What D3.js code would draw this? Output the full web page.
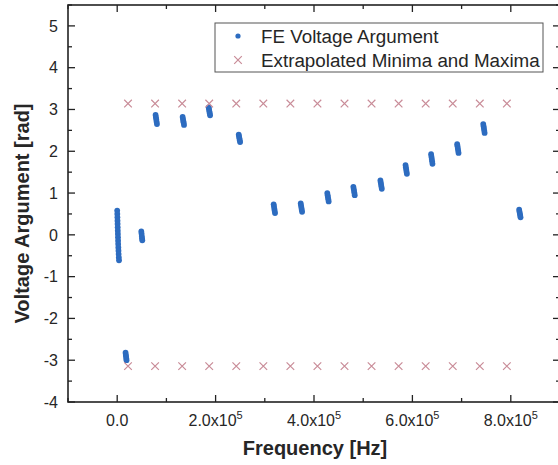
<!DOCTYPE html>
<html>
<head>
<meta charset="utf-8">
<script src="https://cdn.jsdelivr.net/npm/d3@7"></script>
<style>
  html, body { margin: 0; padding: 0; background: #fff; }
  svg { display: block; font-family: Arial, "Liberation Sans", sans-serif; }
</style>
</head>
<body>
<svg id="chart" width="558" height="465"></svg>
<script>
// ---------- data ----------
// FE voltage argument samples: [frequency Hz, argument rad]
const feVoltageArgument = [
  // cluster near 0 Hz
  [0, 0.58], [200, 0.50], [400, 0.42], [600, 0.34], [800, 0.26], [1000, 0.18],
  [1200, 0.10], [1400, 0.02], [1600, -0.06], [1800, -0.14], [2000, -0.22],
  [2300, -0.30], [2600, -0.38], [2900, -0.46], [3300, -0.54], [3700, -0.61],
  // ~18 kHz
  [17000, -2.82], [17500, -2.87], [18000, -2.91], [18500, -2.96], [19000, -3.00],
  // ~50 kHz
  [49000, 0.08], [49500, 0.03], [50000, -0.03], [50500, -0.08], [51000, -0.13],
  // ~79 kHz
  [78000, 2.87], [78700, 2.815], [79400, 2.76], [80100, 2.705], [80800, 2.65],
  // ~134 kHz
  [133000, 2.82], [133700, 2.77], [134400, 2.72], [135100, 2.68], [135800, 2.63],
  // ~187 kHz
  [186000, 3.05], [186700, 3.00], [187400, 2.95], [188100, 2.91], [188800, 2.86],
  // ~248 kHz
  [247000, 2.40], [247700, 2.355], [248400, 2.31], [249100, 2.265], [249800, 2.22],
  // ~319 kHz
  [318000, 0.73], [318700, 0.68], [319400, 0.62], [320100, 0.57], [320800, 0.52],
  // ~374 kHz
  [373000, 0.75], [373700, 0.70], [374400, 0.65], [375100, 0.60], [375800, 0.55],
  // ~428 kHz
  [427000, 1.00], [427700, 0.95], [428400, 0.90], [429100, 0.85], [429800, 0.80],
  // ~481 kHz
  [480000, 1.15], [480700, 1.10], [481400, 1.05], [482100, 1.00], [482800, 0.95],
  // ~536 kHz
  [535000, 1.30], [535700, 1.25], [536400, 1.20], [537100, 1.15], [537800, 1.10],
  // ~587 kHz
  [586000, 1.67], [586700, 1.62], [587400, 1.565], [588100, 1.51], [588800, 1.46],
  // ~639 kHz
  [638000, 1.93], [638700, 1.87], [639400, 1.815], [640100, 1.76], [640800, 1.70],
  // ~692 kHz
  [691000, 2.17], [691700, 2.12], [692400, 2.065], [693100, 2.01], [693800, 1.96],
  // ~745 kHz
  [744000, 2.65], [744700, 2.60], [745400, 2.545], [746100, 2.49], [746800, 2.44],
  // ~818 kHz
  [817000, 0.60], [817700, 0.555], [818400, 0.51], [819100, 0.465], [819800, 0.42]
];

// Extrapolated minima and maxima
const extrapFreq = [22000, 77000, 132000, 187000, 242000, 297000, 352000, 407000,
                    462000, 517000, 572000, 627000, 682000, 737000, 792000];
const extrapMaxPhase = 3.1416;
const extrapMinPhase = -3.1416;

const xTickValues = [0, 200000, 400000, 600000, 800000];
const xTickMantissa = ["0.0", "2.0", "4.0", "6.0", "8.0"];
const yTickValues = [-4, -3, -2, -1, 0, 1, 2, 3, 4, 5];

const legendLabels = ["FE Voltage Argument", "Extrapolated Minima and Maxima"];
const xTitle = "Frequency [Hz]";
const yTitle = "Voltage Argument [rad]";

// ---------- layout ----------
const svg = d3.select("#chart");
const L = 68, R = 560, T = 5, B = 402;
const x = d3.scaleLinear().domain([-100000, 900000]).range([L, R]);
const y = d3.scaleLinear().domain([-4, 5.5]).range([B, T]);

const blue = "#2d6cc0";
const pink = "#c98c98";
const axisColor = "#222";
const textColor = "#262626";

// ---------- data marks ----------
svg.append("g").selectAll("circle")
  .data(feVoltageArgument)
  .join("circle")
  .attr("cx", d => x(d[0]))
  .attr("cy", d => y(d[1]))
  .attr("r", 2.9)
  .attr("fill", blue);

const crossData = extrapFreq.map(f => [f, extrapMaxPhase])
  .concat(extrapFreq.map(f => [f, extrapMinPhase]));
const cs = 3.8;
svg.append("g").selectAll("path")
  .data(crossData)
  .join("path")
  .attr("d", d => {
    const cx = x(d[0]), cy = y(d[1]);
    return `M${cx - cs},${cy - cs}L${cx + cs},${cy + cs}M${cx - cs},${cy + cs}L${cx + cs},${cy - cs}`;
  })
  .attr("stroke", pink)
  .attr("stroke-width", 1.2)
  .attr("fill", "none");

// ---------- axes ----------
const xMinor = d3.range(-100000, 900001, 100000);
const yMinor = d3.range(-4, 5.51, 0.5);

function tickLen(isMajor) { return isMajor ? 7 : 4; }

const axG = svg.append("g").attr("stroke", axisColor).attr("stroke-width", 1.3);
xMinor.forEach(v => {
  const major = xTickValues.includes(v);
  const px = x(v);
  axG.append("line").attr("x1", px).attr("x2", px).attr("y1", B).attr("y2", B - tickLen(major));
  axG.append("line").attr("x1", px).attr("x2", px).attr("y1", T).attr("y2", T + tickLen(major));
});
yMinor.forEach(v => {
  const major = Number.isInteger(v);
  const py = y(v);
  axG.append("line").attr("x1", L).attr("x2", L + tickLen(major)).attr("y1", py).attr("y2", py);
  axG.append("line").attr("x1", R).attr("x2", R - tickLen(major)).attr("y1", py).attr("y2", py);
});
svg.append("rect")
  .attr("x", L).attr("y", T).attr("width", R - L).attr("height", B - T)
  .attr("fill", "none").attr("stroke", axisColor).attr("stroke-width", 1.6);

// tick labels
svg.append("g").selectAll("text")
  .data(yTickValues)
  .join("text")
  .attr("x", L - 10)
  .attr("y", d => y(d))
  .attr("dy", "0.36em")
  .attr("text-anchor", "end")
  .attr("font-size", 16)
  .attr("fill", textColor)
  .text(d => d);

const xl = svg.append("g").selectAll("text")
  .data(xTickValues)
  .join("text")
  .attr("x", d => x(d))
  .attr("y", B + 24)
  .attr("text-anchor", "middle")
  .attr("font-size", 16)
  .attr("fill", textColor);
xl.each(function(d, i) {
  const t = d3.select(this);
  if (d === 0) { t.text(xTickMantissa[i]); return; }
  t.append("tspan").text(xTickMantissa[i] + "x10");
  t.append("tspan").attr("dy", -7).attr("font-size", 11).text("5");
});

// axis titles
svg.append("text")
  .attr("x", (L + R) / 2 + 1)
  .attr("y", 455)
  .attr("text-anchor", "middle")
  .attr("font-size", 20)
  .attr("font-weight", "bold")
  .attr("fill", textColor)
  .text(xTitle);

svg.append("text")
  .attr("transform", `translate(29,${(T + B) / 2 + 10}) rotate(-90)`)
  .attr("text-anchor", "middle")
  .attr("font-size", 20)
  .attr("font-weight", "bold")
  .attr("fill", textColor)
  .text(yTitle);

// ---------- legend ----------
const lg = svg.append("g");
lg.append("rect")
  .attr("x", 215).attr("y", 23).attr("width", 328).attr("height", 49)
  .attr("fill", "#fff").attr("stroke", "#555").attr("stroke-width", 1);
lg.append("circle").attr("cx", 238).attr("cy", 36).attr("r", 2.6).attr("fill", blue);
lg.append("path")
  .attr("d", `M${238 - cs},${60 - cs}L${238 + cs},${60 + cs}M${238 - cs},${60 + cs}L${238 + cs},${60 - cs}`)
  .attr("stroke", pink).attr("stroke-width", 1.2);
lg.selectAll("text.lbl")
  .data(legendLabels)
  .join("text")
  .attr("class", "lbl")
  .attr("x", 261)
  .attr("y", (d, i) => 36 + i * 24)
  .attr("dy", "0.36em")
  .attr("font-size", 18.8)
  .attr("fill", textColor)
  .text(d => d);
</script>
</body>
</html>
